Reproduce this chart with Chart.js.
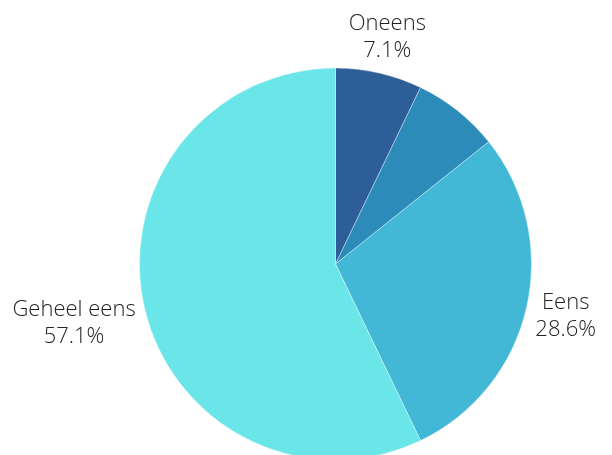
<!DOCTYPE html>
<html>
<head>
<meta charset="utf-8">
<script src="https://cdn.jsdelivr.net/npm/chart.js@4/dist/chart.umd.min.js"></script>
<style>
  html, body { margin: 0; padding: 0; background: #fff; overflow: hidden; }
  #wrap { width: 612px; height: 455px; overflow: hidden; }
  #box { width: 612px; height: 475px; position: relative; }
</style>
</head>
<body>
<div id="wrap"><div id="box"><canvas id="myChart"></canvas></div></div>
<script>
// Antwoorden
const categorieen = ['Oneens', 'Neutraal', 'Eens', 'Geheel eens'];
const aantallen = [1, 1, 4, 8];
const kleuren = ['#2E5E97', '#2D8BBA', '#42B7D6', '#6AE5E8'];
const toonLabel = [true, false, true, true];

// labels buiten de taart, zoals datalabels anchor/align 'end'
const buitenLabels = {
    id: 'buitenLabels',
    afterDatasetsDraw(chart) {
        const ctx = chart.ctx;
        const meta = chart.getDatasetMeta(0);
        const totaal = aantallen.reduce((a, b) => a + b, 0);
        ctx.save();
        ctx.font = '300 22px "Open Sans"';
        ctx.fillStyle = '#222';
        ctx.textAlign = 'center';
        ctx.textBaseline = 'middle';
        const lh = 27;
        meta.data.forEach((arc, i) => {
            if (!toonLabel[i]) return;
            const p = arc.getProps(['x', 'y', 'startAngle', 'endAngle', 'outerRadius'], true);
            const hoek = (p.startAngle + p.endAngle) / 2;
            const dx = Math.cos(hoek), dy = Math.sin(hoek);
            const regels = [categorieen[i], (aantallen[i] / totaal * 100).toFixed(1) + '%'];
            const hw = Math.max(...regels.map(t => ctx.measureText(t).width)) / 2;
            const hh = lh * regels.length / 2;
            const d = Math.min(Math.abs(dx) > 1e-6 ? hw / Math.abs(dx) : Infinity,
                               Math.abs(dy) > 1e-6 ? hh / Math.abs(dy) : Infinity);
            const r = p.outerRadius + 9 + d;
            const cx = p.x + dx * r;
            const cy = p.y + dy * r;
            regels.forEach((t, j) => {
                ctx.fillText(t, cx, cy - hh + lh / 2 + j * lh);
            });
        });
        ctx.restore();
    }
};

const data = {
    labels: categorieen,
    datasets: [{
        data: aantallen,
        backgroundColor: kleuren,
        borderColor: 'rgba(255,255,255,0.6)',
        borderWidth: 0.6
    }]
};

const config = {
    type: 'pie',
    data: data,
    options: {
        responsive: true,
        maintainAspectRatio: false,
        animation: false,
        radius: 196,
        layout: { padding: { left: 59, right: 0, top: 53, bottom: 0 } },
        plugins: {
            legend: { display: false },
            tooltip: { enabled: false }
        }
    },
    plugins: [buitenLabels]
};

new Chart(document.getElementById('myChart'), config);
</script>
</body>
</html>
